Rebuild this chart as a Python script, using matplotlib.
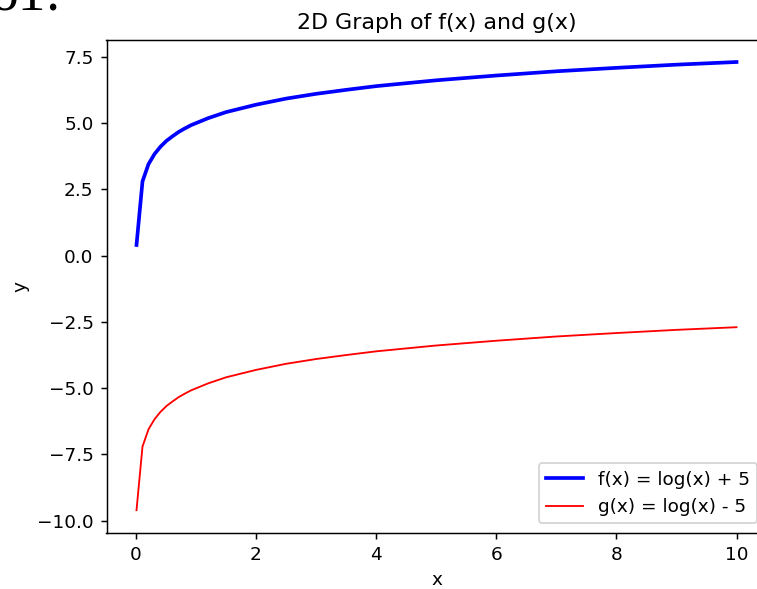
import matplotlib
matplotlib.use("Agg")
from matplotlib import pyplot as plt

# values
x = [0.01, 0.11, 0.21, 0.31, 0.41, 0.51, 0.61, 0.71, 0.81, 0.92, 1.2, 1.5,
     2.0, 2.5, 3.0, 3.5, 4.0, 5.0, 6.0, 7.0, 8.0, 9.0, 10.0]
f_vals = [0.4, 2.8, 3.45, 3.83, 4.11, 4.33, 4.5, 4.66, 4.79, 4.92, 5.18, 5.41,
          5.69, 5.92, 6.1, 6.25, 6.39, 6.61, 6.79, 6.95, 7.08, 7.2, 7.3]
g_vals = [-9.6, -7.2, -6.55, -6.17, -5.89, -5.67, -5.5, -5.34, -5.21, -5.08, -4.82, -4.59,
          -4.31, -4.08, -3.9, -3.75, -3.61, -3.39, -3.21, -3.05, -2.92, -2.8, -2.7]

dpi = 133
fig = plt.figure(figsize=(757 / dpi, 589 / dpi), dpi=dpi)
ax = fig.add_axes([106.5 / 757, (589 - 532.6) / 589, 660 / 757, 493 / 589])

ax.plot(x, f_vals, color='blue', lw=2, label='f(x) = log(x) + 5')
ax.plot(x, g_vals, color='red', lw=1, label='g(x) = log(x) - 5')

ax.set_title('2D Graph of f(x) and g(x)')
ax.set_xlabel('x')
ax.set_ylabel('y')
ax.legend(loc='lower right')

# cropped caption fragment at the top-left of the page
fig.text(-0.012, 1 - 10 / 589, 'o1:', fontsize=30, family='Liberation Serif',
         va='baseline', ha='left')

fig.savefig('out.png', dpi=dpi)
